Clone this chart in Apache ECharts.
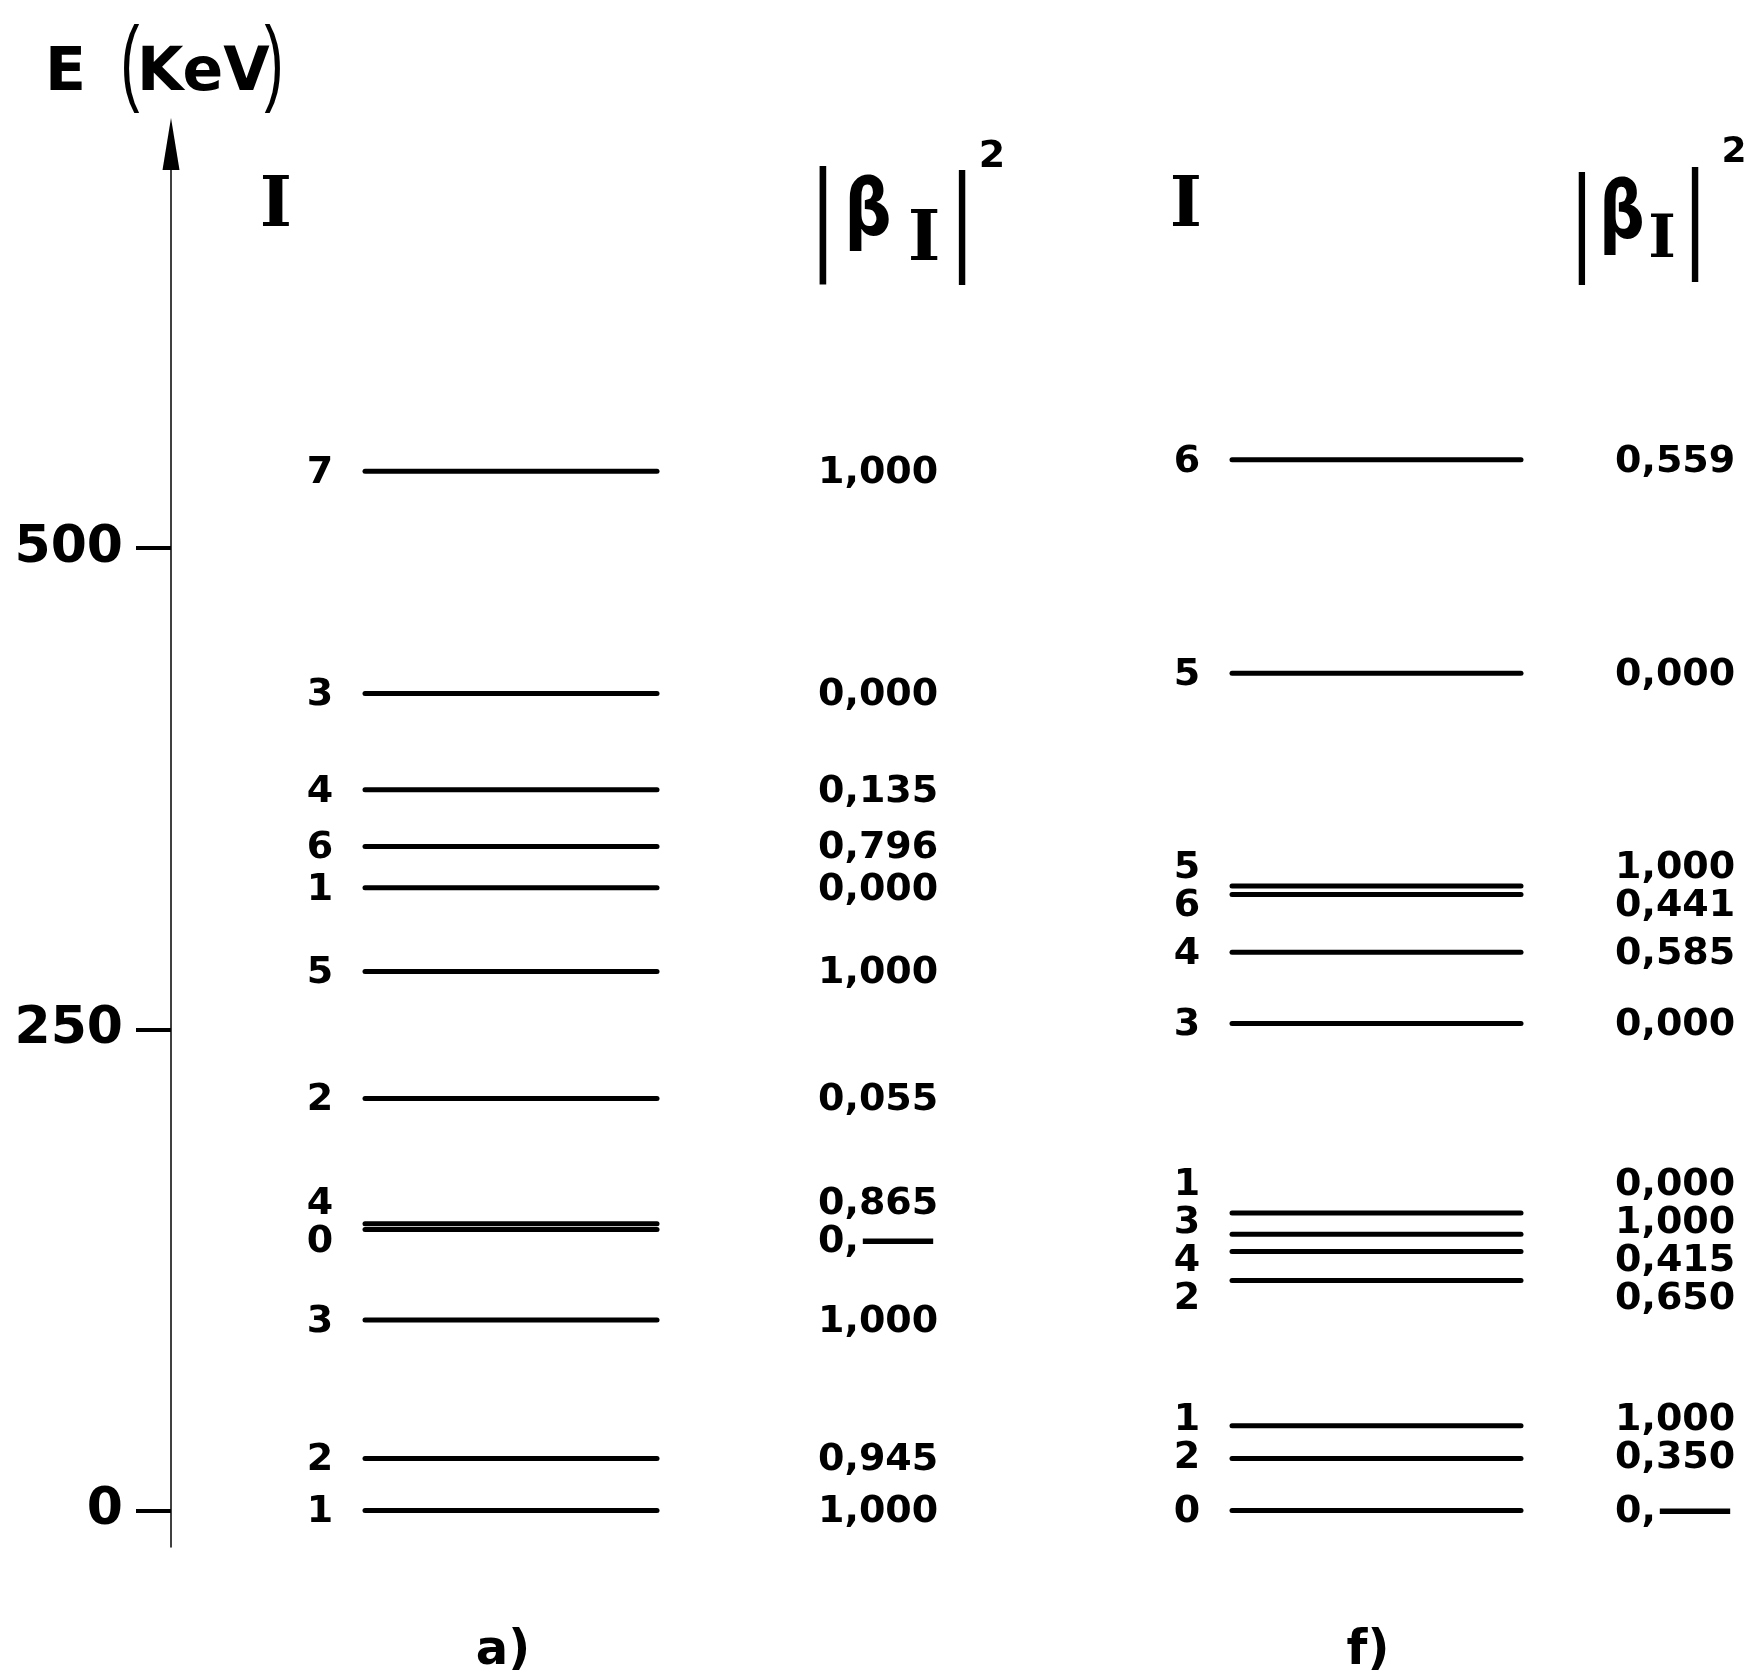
<!DOCTYPE html>
<html><head><meta charset="utf-8">
<script src="https://cdn.jsdelivr.net/npm/echarts@6/dist/echarts.min.js"></script>
<style>html,body{margin:0;padding:0;background:#fff}#c{width:1751px;height:1677px}</style>
</head><body><div id="c"></div>
<script>
// ---- Data: panel a) ----
const levelsA_E = [0, 27, 99, 146, 149, 214, 280, 323.5, 345, 374.5, 424.5, 540];
const levelsA_I = ['1','2','3','0','4','2','5','1','6','4','3','7'];
const levelsA_beta = ['1,000','0,945','1,000','0,\u2014','0,865','0,055','1,000','0,000','0,796','0,135','0,000','1,000'];
// ---- Data: panel f) ----
const levelsF_E = [0, 27, 44, 119.5, 134.5, 143.5, 154.5, 253, 290, 320, 324.5, 435, 546];
const levelsF_I = ['0','2','1','2','4','3','1','3','4','6','5','5','6'];
const levelsF_beta = ['0,\u2014','0,350','1,000','0,650','0,415','1,000','0,000','0,000','0,585','0,441','1,000','0,000','0,559'];
// ---- Axis ticks & labels ----
const yTicks = [0, 250, 500];
const panelLabels = ['a)', 'f)'];
const axisTitle = ['E', '(', 'KeV', ')'];

// ---- Layout (positions / styles) ----
const FONT = '"DejaVu Sans", sans-serif';
const SERIF = '"DejaVu Serif", serif';
const LIB = '"Liberation Sans", sans-serif';
const layout = [
  {lineX0: 365, lineX1: 657, iX: 320, valX: 818, panelX: 503},
  {lineX0: 1232, lineX1: 1521, iX: 1187, valX: 1615, panelX: 1368}
];

function spread(ys, gap, shift) {
  const idx = ys.map((y, i) => i).sort((a, b) => ys[a] - ys[b]);
  const out = ys.slice();
  const groups = [];
  idx.forEach(i => {
    const g = groups[groups.length - 1];
    if (g && ys[i] - ys[g[g.length - 1]] < gap) g.push(i); else groups.push([i]);
  });
  groups.forEach(g => {
    if (g.length === 1) return;
    const c = g.reduce((s, i) => s + ys[i], 0) / g.length + shift;
    g.forEach((i, k) => { out[i] = c + (k - (g.length - 1) / 2) * gap; });
  });
  return out;
}

// long dash drawn as a larger em dash glyph via rich text
function betaText(s) {
  return s.indexOf('\u2014') >= 0 ? s.replace('\u2014', '{d|\u2014}') : s;
}

function makeRender(p, E, Is, betas) {
  return function (params, api) {
    const L = layout[p];
    const ys = E.map(e => api.coord([0, e])[1]);
    const lab = spread(ys, 38, -5);
    const i = params.dataIndex;
    const y = ys[i];
    const ty = lab[i] + 2;
    return {
      type: 'group',
      children: [
        {type: 'line', shape: {x1: L.lineX0, y1: y, x2: L.lineX1, y2: y},
         style: {stroke: '#000', lineWidth: 5, lineCap: 'round'}},
        {type: 'text', style: {text: Is[i], x: L.iX, y: ty, align: 'center', verticalAlign: 'middle',
          fontSize: 38, fontWeight: 'bold', fontFamily: FONT, fill: '#000'}},
        {type: 'text', style: {text: betaText(betas[i]), x: L.valX, y: ty, align: 'left', verticalAlign: 'middle',
          fontSize: 38, fontWeight: 'bold', fontFamily: FONT, fill: '#000',
          rich: {d: {fontSize: 78, fontWeight: 'normal', fontFamily: FONT, fill: '#000', verticalAlign: 'middle'}}}}
      ]
    };
  };
}

function txt(text, x, y, size, weight, family, align, sx) {
  return {type: 'text', silent: true, x: x, y: y, scaleX: sx || 1,
    style: {text: text, x: 0, y: 0, align: align || 'center', verticalAlign: 'middle',
      fontSize: size, fontWeight: weight, fontFamily: family, fill: '#000'}};
}

const chart = echarts.init(document.getElementById('c'), null, {renderer: 'canvas'});
const option = {
  backgroundColor: '#fff',
  animation: false,
  grid: {left: 171, right: 30, top: 144, bottom: 130, containLabel: false},
  xAxis: {type: 'value', min: 0, max: 1, show: false},
  yAxis: {
    type: 'value', min: -19, max: 710,
    axisLine: {show: true, lineStyle: {color: '#000', width: 1.5}, symbol: ['none', 'triangle'], symbolSize: [17, 52]},
    axisTick: {show: true, length: 35, lineStyle: {color: '#000', width: 4}, customValues: yTicks},
    axisLabel: {show: true, customValues: yTicks, margin: 48, fontSize: 52, fontWeight: 'bold', fontFamily: FONT, color: '#000'},
    splitLine: {show: false}
  },
  series: [
    {type: 'custom', coordinateSystem: 'cartesian2d', renderItem: makeRender(0, levelsA_E, levelsA_I, levelsA_beta),
     data: levelsA_E.map(e => [0, e]), clip: false},
    {type: 'custom', coordinateSystem: 'cartesian2d', renderItem: makeRender(1, levelsF_E, levelsF_I, levelsF_beta),
     data: levelsF_E.map(e => [0, e]), clip: false}
  ],
  graphic: [
    txt(axisTitle[0], 45, 74, 60, 'bold', FONT, 'left'),
    txt(axisTitle[1], 130, 67, 95, 'normal', LIB, 'center', 0.6),
    txt(axisTitle[2], 137, 74, 60, 'bold', FONT, 'left'),
    txt(axisTitle[3], 274, 67, 95, 'normal', LIB, 'center', 0.6),
    // panel a header
    txt('I', 276, 208, 69, 'bold', SERIF),
    txt('|', 823, 223, 126, 'normal', LIB, 'center', 0.65),
    txt('\u03b2', 868, 215, 78, 'bold', FONT, 'center', 0.85),
    txt('I', 924, 242, 70, 'bold', SERIF),
    txt('|', 962, 225, 122, 'normal', LIB, 'center', 0.65),
    txt('2', 992, 157, 38, 'bold', FONT),
    // panel f header
    txt('I', 1186, 208, 69, 'bold', SERIF),
    txt('|', 1582, 226, 120, 'normal', LIB, 'center', 0.65),
    txt('\u03b2', 1622, 217, 80, 'bold', FONT, 'center', 0.8),
    txt('I', 1662, 242, 59, 'bold', SERIF),
    txt('|', 1695, 222, 122, 'normal', LIB, 'center', 0.65),
    txt('2', 1734, 153, 36, 'bold', FONT),
    // panel captions
    txt(panelLabels[0], layout[0].panelX, 1652, 48, 'bold', FONT),
    txt(panelLabels[1], layout[1].panelX, 1652, 48, 'bold', FONT)
  ]
};
chart.setOption(option);
</script>
</body></html>
